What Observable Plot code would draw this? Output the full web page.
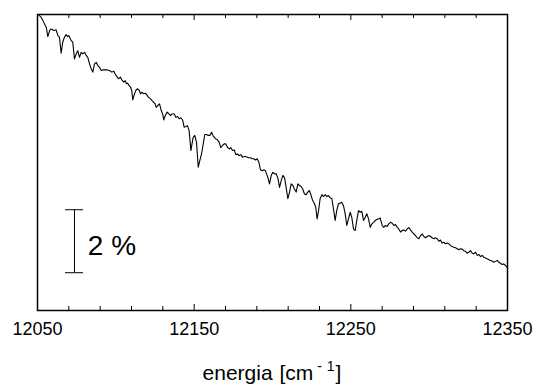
<!DOCTYPE html>
<html>
<head>
<meta charset="utf-8">
<script src="https://cdn.jsdelivr.net/npm/d3@7"></script>
<script src="https://cdn.jsdelivr.net/npm/@observablehq/plot@0.6"></script>
<style>
  body { margin: 0; background: #fff; font-family: "Liberation Sans", Arial, sans-serif; }
  #wrap { position: relative; width: 536px; height: 390px; background: #fff; }
  #xlabel { position: absolute; left: 0; top: 362px; width: 544px; text-align: center; font-size: 21px; line-height: 22px; color: #000; word-spacing: 1px; }
  #xlabel .sup { position: relative; top: -9px; font-size: 14px; margin-left: 4px; margin-right: 1px; }
</style>
</head>
<body>
<div id="wrap"></div>
<script>
// energy in cm^-1
const energy = [
12051.1,12052.4,12054.0,12055.6,12056.6,12057.7,12058.7,12060.4,12061.9,12063.0,
12064.0,12065.1,12066.1,12067.2,12068.3,12069.3,12070.0,12071.5,12072.5,12073.6,
12074.7,12075.7,12076.8,12077.9,12078.9,12080.0,12081.1,12082.1,12083.2,12084.3,
12085.3,12086.4,12087.5,12088.5,12089.6,12090.7,12091.7,12092.8,12094.5,12096.0,
12097.4,12098.7,12099.6,12100.9,12101.7,12103.0,12103.8,12105.1,12106.0,12106.8,
12107.6,12108.5,12109.4,12110.2,12110.8,12111.9,12113.0,12114.0,12115.1,12115.7,
12116.6,12117.9,12118.8,12120.0,12120.9,12122.1,12123.0,12124.2,12125.1,12125.8,
12126.8,12127.9,12129.0,12130.0,12130.6,12131.5,12132.8,12133.6,12134.9,12135.7,
12137.3,12138.3,12139.4,12140.4,12141.5,12142.6,12143.6,12144.7,12145.7,12146.8,
12147.9,12149.3,12150.4,12151.5,12152.6,12153.6,12154.7,12155.8,12156.8,12157.9,
12159.0,12160.0,12161.1,12162.2,12163.8,12164.9,12166.0,12167.0,12168.1,12169.2,
12170.2,12171.3,12172.4,12173.4,12174.5,12175.6,12176.6,12177.7,12178.7,12179.8,
12180.9,12181.9,12182.8,12183.9,12184.9,12186.0,12187.0,12188.1,12189.2,12190.2,
12191.3,12192.3,12193.4,12194.5,12195.5,12196.2,12197.0,12198.1,12199.2,12200.2,
12201.3,12202.4,12203.4,12204.5,12205.6,12206.6,12207.7,12208.7,12209.8,12210.9,
12211.9,12213.0,12214.0,12215.1,12216.2,12217.2,12218.3,12219.3,12220.4,12221.5,
12222.5,12223.6,12224.7,12225.5,12226.8,12227.6,12228.5,12229.4,12230.4,12231.5,
12232.6,12233.6,12234.7,12235.7,12236.8,12237.9,12238.9,12240.0,12241.0,12242.1,
12243.2,12244.2,12245.3,12246.4,12247.4,12248.5,12249.6,12250.6,12251.7,12252.8,
12253.8,12254.9,12256.0,12257.0,12258.1,12259.2,12260.2,12261.3,12262.4,12263.4,
12264.5,12265.6,12266.6,12267.7,12268.7,12270.0,12271.0,12272.1,12273.2,12274.2,
12275.3,12276.4,12277.4,12278.5,12279.6,12280.6,12281.7,12282.8,12283.8,12284.9,
12286.0,12287.0,12288.1,12289.2,12290.2,12291.3,12292.4,12293.4,12294.5,12295.6,
12296.6,12297.7,12298.7,12299.8,12300.9,12301.9,12303.0,12304.0,12305.1,12306.2,
12307.2,12308.3,12309.3,12310.4,12311.5,12312.5,12313.6,12314.7,12315.7,12316.8,
12317.9,12318.9,12320.0,12321.1,12322.1,12323.2,12324.3,12325.3,12326.4,12327.5,
12328.5,12329.6,12330.7,12331.7,12332.8,12333.9,12334.9,12336.0,12337.0,12338.1,
12339.2,12340.2,12341.3,12342.3,12343.4,12344.5,12345.5,12346.6,12347.6,12348.7,
12349.8
];
// relative signal in %
const signal = [
9.37,9.31,9.15,8.99,8.70,8.89,8.94,8.89,8.91,8.73,
8.68,8.17,8.52,8.68,8.76,8.70,8.73,8.57,8.52,7.99,
8.15,8.25,8.04,8.20,8.15,8.20,8.10,8.04,7.83,7.67,
7.57,7.83,7.88,7.78,7.72,7.62,7.64,7.64,7.64,7.62,
7.57,7.60,7.51,7.41,7.36,7.41,7.32,7.25,7.30,7.20,
7.22,7.14,7.09,6.98,6.69,6.88,7.01,7.04,6.98,6.88,
6.93,6.88,6.90,6.83,6.77,6.72,6.67,6.61,6.56,6.45,
6.51,6.56,6.35,6.22,6.05,6.19,6.30,6.26,6.19,6.24,
6.24,6.14,6.16,6.09,6.12,6.05,5.82,5.84,5.87,5.71,
5.08,5.49,5.56,5.34,4.55,4.76,4.97,5.29,5.59,5.59,
5.56,5.56,5.66,5.54,5.45,5.42,5.34,5.17,5.24,5.29,
5.29,5.18,5.13,5.17,5.08,5.10,4.95,4.97,4.92,4.95,
4.87,4.89,4.89,4.87,4.85,4.85,4.82,4.82,4.78,4.82,
4.71,4.47,4.44,4.47,4.44,4.34,4.23,4.02,4.29,4.39,
4.34,4.34,4.21,3.91,4.13,4.29,4.21,3.91,3.55,3.76,
4.02,3.97,3.86,3.76,4.02,3.97,3.94,3.86,3.70,3.68,
3.76,3.81,3.65,3.51,3.39,3.28,2.91,3.17,3.55,3.68,
3.62,3.68,3.62,3.65,3.58,3.55,3.23,2.86,3.17,3.39,
3.41,3.44,3.33,3.07,2.70,2.91,3.12,2.96,2.59,2.54,
2.86,3.17,3.12,3.15,2.86,2.96,3.07,2.91,2.64,2.75,
2.80,2.86,2.89,2.91,2.94,2.70,2.64,2.70,2.67,2.75,
2.80,2.77,2.70,2.73,2.64,2.59,2.49,2.54,2.56,2.52,
2.59,2.63,2.56,2.49,2.43,2.38,2.31,2.28,2.38,2.43,
2.35,2.31,2.35,2.38,2.35,2.31,2.28,2.31,2.28,2.20,
2.24,2.14,2.17,2.12,2.14,2.12,2.06,2.03,2.01,1.99,
1.96,1.93,1.96,1.95,1.90,1.88,1.82,1.85,1.90,1.82,
1.80,1.85,1.75,1.78,1.71,1.75,1.69,1.67,1.64,1.61,
1.59,1.57,1.53,1.56,1.59,1.53,1.50,1.46,1.48,1.43,
1.37
];
const xDomain = [12050, 12350];
const yDomain = [0, 9.4];
const majorTicks = [12050, 12150, 12250, 12350];
const minorTicks = [12070, 12090, 12110, 12130, 12170, 12190, 12210, 12230, 12270, 12290, 12310, 12330];
// scale bar: 2 % span
const scaleBarEnergy = [12073.6];
const scaleBarLow = [1.2];
const scaleBarHigh = [3.2];
const scaleBarCap = [12067.9, 12079.4];
const scaleBarLabel = ["2 %"];
const scaleBarLabelEnergy = [12082.1];
const scaleBarLabelSignal = [2.05];

const data = energy.map((e, i) => ({energy: e, signal: signal[i]}));
const bar = scaleBarEnergy.map((e, i) => ({energy: e, low: scaleBarLow[i], high: scaleBarHigh[i]}));
const caps = [scaleBarLow[0], scaleBarHigh[0]].map(v => ({v, x1: scaleBarCap[0], x2: scaleBarCap[1]}));
const labels = scaleBarLabel.map((t, i) => ({t, energy: scaleBarLabelEnergy[i], signal: scaleBarLabelSignal[i]}));

const H = 352, MT = 14, MB = 42;
const inner = H - MT - MB;

const chart = Plot.plot({
  width: 536,
  height: H,
  marginLeft: 37,
  marginRight: 29,
  marginTop: MT,
  marginBottom: MB,
  style: {fontFamily: '"Liberation Sans", Arial, sans-serif', background: "#fff", color: "#000", overflow: "visible"},
  x: {domain: xDomain, label: null},
  y: {domain: yDomain, axis: null},
  marks: [
    Plot.line(data, {x: "energy", y: "signal", stroke: "#000", strokeWidth: 1.1}),
    Plot.tickX(minorTicks, {x: d => d, insetTop: inner - 4, stroke: "#000"}),
    Plot.tickX(minorTicks, {x: d => d, insetBottom: inner - 4, stroke: "#000"}),
    Plot.tickX(majorTicks, {x: d => d, insetTop: inner - 6, stroke: "#000"}),
    Plot.tickX(majorTicks, {x: d => d, insetBottom: inner - 6, stroke: "#000"}),
    Plot.axisX(majorTicks, {tickSize: 0, tickPadding: 12, fontSize: 18, tickFormat: d => String(d), label: null}),
    Plot.ruleX(bar, {x: "energy", y1: "low", y2: "high", stroke: "#000", strokeWidth: 1}),
    Plot.ruleY(caps, {y: "v", x1: "x1", x2: "x2", stroke: "#000", strokeWidth: 1}),
    Plot.text(labels, {x: "energy", y: "signal", text: "t", textAnchor: "start", fontSize: 28, fill: "#000"}),
    Plot.frame({stroke: "#000", strokeWidth: 1.5})
  ]
});
const wrap = document.getElementById("wrap");
wrap.appendChild(chart);
const lab = document.createElement("div");
lab.id = "xlabel";
lab.innerHTML = 'energia [cm<span class="sup">- 1</span>]';
wrap.appendChild(lab);
</script>
</body>
</html>
